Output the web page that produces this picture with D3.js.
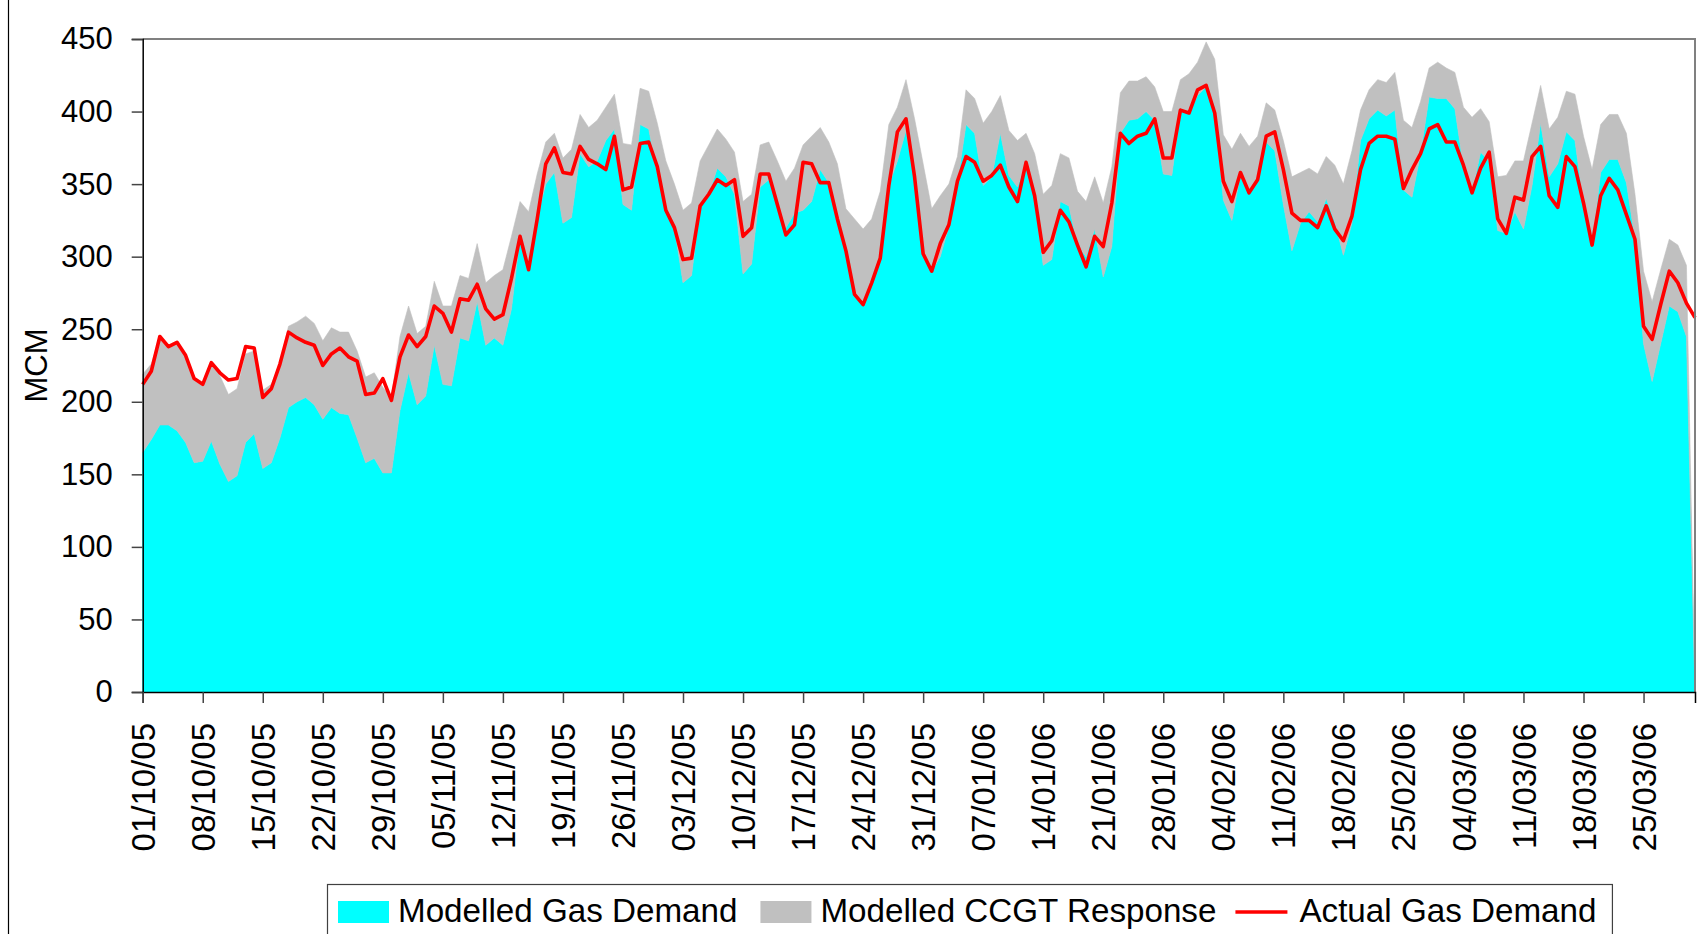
<!DOCTYPE html>
<html>
<head>
<meta charset="utf-8">
<script src="https://cdn.jsdelivr.net/npm/d3@7"></script>
<style>
	html, body { margin: 0; padding: 0; background: #fff; }
	svg { display: block; font-family: Arial, "Liberation Sans", sans-serif; }
</style>
</head>
<body>
<div id="chart"></div>
<script>
// daily values, 01/10/05 .. 31/03/06 (MCM)
var startDate = '2005-10-01';
var seriesNames = ['Modelled Gas Demand', 'Modelled CCGT Response', 'Actual Gas Demand'];
var yTicks = [0, 50, 100, 150, 200, 250, 300, 350, 400, 450];

var modelledDemand = [
	165,174,184,184,180,172,158,159,173,157,145,149,172,178,154,158,175,196,200,203,198,188,196,192,191,175,158,161,151,151,
	194,220,198,204,239,212,211,244,242,269,239,244,239,264,314,291,327,350,358,323,327,371,362,366,380,388,336,332,391,388,358,
	332,320,282,287,335,343,361,355,343,288,295,348,353,336,320,330,332,338,360,351,326,304,274,267,282,298,349,366,387,352,
	302,290,300,321,351,391,385,349,355,385,356,348,365,341,294,298,338,335,308,300,319,286,307,385,394,395,400,394,357,356,
	401,399,411,417,404,339,325,357,344,353,379,373,336,304,323,331,324,340,324,301,323,380,395,401,397,401,346,341,371,410,409,
	409,402,362,344,372,366,318,316,331,319,349,392,355,364,386,380,337,308,358,367,367,351,312,240,214,240,266,262,245,0
];
var ccgtResponse = [
	54,52,61,54,61,60,58,54,54,61,60,60,61,57,54,54,51,56,55,56,56,54,55,56,57,60,59,59,59,52,
	51,46,49,48,44,54,55,43,43,40,43,43,52,50,24,40,30,29,27,45,47,27,27,28,23,24,42,45,25,26,34,
	34,30,50,50,31,34,27,26,29,50,48,29,26,30,32,31,45,45,29,28,38,29,52,52,44,47,42,37,35,43,
	62,43,42,29,18,24,24,43,45,26,31,32,20,30,49,51,33,33,37,38,36,51,55,28,27,26,24,23,43,44,
	21,27,23,31,32,45,49,28,32,30,27,28,44,51,35,30,33,29,39,49,50,21,20,21,23,26,48,48,36,20,25,
	21,25,41,52,30,27,37,40,35,47,43,26,33,32,28,32,46,52,33,31,31,34,31,50,55,51,46,46,49,0
];
var actualDemand = [
	212,221,245,238,241,232,216,212,227,220,215,216,238,237,203,209,226,248,244,241,239,225,233,237,231,228,205,206,216,201,
	231,246,238,245,266,261,248,271,270,281,264,257,260,285,314,291,326,364,375,358,357,376,367,364,360,383,346,348,378,379,362,
	332,320,298,299,335,343,353,349,353,314,320,357,357,336,315,322,365,364,351,351,326,304,274,267,282,299,349,386,395,355,
	302,290,309,322,352,369,365,352,356,363,348,338,365,342,303,311,332,324,308,293,314,307,337,385,378,383,385,395,368,368,
	401,399,415,418,399,352,338,358,344,353,383,386,360,330,325,325,320,335,319,311,328,360,378,383,383,381,347,360,371,388,391,
	379,379,363,344,361,372,326,316,341,339,369,376,342,334,369,362,337,308,342,354,346,329,312,252,243,267,290,282,268,258
];

(function() {

var width = 1707, height = 934;
var plot = { left: 142.7, right: 1695, top: 39, bottom: 692 };
var colors = { modelled: '#00ffff', ccgt: '#c0c0c0', actual: '#ff0000' };

var day0 = d3.utcParse('%Y-%m-%d')(startDate);
var rows = modelledDemand.map(function(v, i) {
	return {
		date: d3.utcDay.offset(day0, i),
		modelled: v,
		ccgt: ccgtResponse[i],
		actual: actualDemand[i]
	};
});
var lastDate = rows[rows.length - 1].date;

var x = d3.scaleUtc()
	.domain([day0, lastDate])
	.range([plot.left, plot.right]);
var y = d3.scaleLinear()
	.domain([0, 450])
	.range([plot.bottom, plot.top]);

var svg = d3.select('#chart').append('svg')
	.attr('width', width)
	.attr('height', height)
	.attr('viewBox', '0 0 ' + width + ' ' + height);

svg.append('rect')
	.attr('width', width)
	.attr('height', height)
	.attr('fill', '#fff');

// outer chart frame (only the left edge shows in the crop)
svg.append('line')
	.attr('x1', 8.5).attr('x2', 8.5)
	.attr('y1', 0).attr('y2', height)
	.attr('stroke', '#000')
	.attr('stroke-width', 1.2);

// stacked areas
var stack = d3.stack().keys(['modelled', 'ccgt']);
var layers = stack(rows);
var area = d3.area()
	.x(function(d) { return x(d.data.date); })
	.y0(function(d) { return y(d[0]); })
	.y1(function(d) { return y(d[1]); });

svg.append('g')
	.attr('class', 'areas')
	.selectAll('path')
	.data(layers)
	.enter()
	.append('path')
	.attr('d', area)
	.attr('fill', function(d) { return d.key == 'modelled' ? colors.modelled : colors.ccgt; })
	.attr('stroke', function(d) { return d.key == 'modelled' ? colors.modelled : colors.ccgt; })
	.attr('stroke-width', 0.6);

var line = d3.line()
	.x(function(d) { return x(d.date); })
	.y(function(d) { return y(d.actual); });

svg.append('path')
	.datum(rows)
	.attr('d', line)
	.attr('fill', 'none')
	.attr('stroke', colors.actual)
	.attr('stroke-width', 3.6)
	.attr('stroke-linejoin', 'round');

// plot area border, top and right
svg.append('path')
	.attr('d', 'M' + plot.left + ',' + plot.top + 'H' + plot.right + 'V' + plot.bottom)
	.attr('fill', 'none')
	.attr('stroke', '#808080')
	.attr('stroke-width', 2);

// y axis
var yAxis = svg.append('g')
	.attr('class', 'y axis')
	.attr('transform', 'translate(' + plot.left + ',0)')
	.call(d3.axisLeft(y).tickValues(yTicks).tickSize(11).tickPadding(19));
yAxis.select('.domain').attr('stroke', '#000').attr('stroke-width', 1.5);
yAxis.selectAll('.tick line').attr('stroke', '#444').attr('stroke-width', 1.5);
yAxis.selectAll('.tick text')
	.attr('font-size', 31)
	.attr('font-family', 'Arial, "Liberation Sans", sans-serif')
	.attr('fill', '#000');

// x axis, weekly ticks
var xTicks = d3.utcDay.range(day0, d3.utcDay.offset(lastDate, 1), 7);
var xAxis = svg.append('g')
	.attr('class', 'x axis')
	.attr('transform', 'translate(0,' + plot.bottom + ')')
	.call(d3.axisBottom(x).tickValues(xTicks).tickSize(11).tickFormat(d3.utcFormat('%d/%m/%y')));
xAxis.select('.domain').attr('stroke', '#000').attr('stroke-width', 1.5);
xAxis.selectAll('.tick line').attr('stroke', '#444').attr('stroke-width', 1.5);
xAxis.selectAll('.tick text')
	.attr('font-size', 33)
	.attr('font-family', 'Arial, "Liberation Sans", sans-serif')
	.attr('fill', '#000')
	.attr('text-anchor', 'end')
	.attr('transform', 'translate(0,31) rotate(-90)')
	.attr('x', 0)
	.attr('y', 0)
	.attr('dy', '0.35em');

// y title
svg.append('text')
	.attr('transform', 'translate(36,' + (plot.top + plot.bottom) / 2 + ') rotate(-90)')
	.attr('text-anchor', 'middle')
	.attr('dy', '0.35em')
	.attr('font-size', 31)
	.attr('fill', '#000')
	.text('MCM');

// legend
var legend = svg.append('g').attr('class', 'legend');
var legendBox = legend.append('rect')
	.attr('x', 327.5)
	.attr('y', 884.5)
	.attr('height', 80)
	.attr('fill', '#fff')
	.attr('stroke', '#404040')
	.attr('stroke-width', 1.2);

var lx = 338;
var keyTypes = ['modelled', 'ccgt', 'actual'];
seriesNames.forEach(function(name, i) {
	var type = keyTypes[i];
	if(type == 'actual') {
		legend.append('line')
			.attr('x1', lx - 4).attr('x2', lx + 48)
			.attr('y1', 912).attr('y2', 912)
			.attr('stroke', colors.actual)
			.attr('stroke-width', 3.6);
	} else {
		legend.append('rect')
			.attr('x', lx).attr('y', 901)
			.attr('width', 51).attr('height', 22)
			.attr('fill', colors[type]);
	}
	var t = legend.append('text')
		.attr('x', lx + 60)
		.attr('y', 922)
		.attr('font-size', 33.2)
		.attr('fill', '#000')
		.text(name);
	lx = lx + 60 + t.node().getComputedTextLength() + 23;
});
legendBox.attr('width', lx - 23 + 16 - 327.5);

})();
</script>
</body>
</html>
